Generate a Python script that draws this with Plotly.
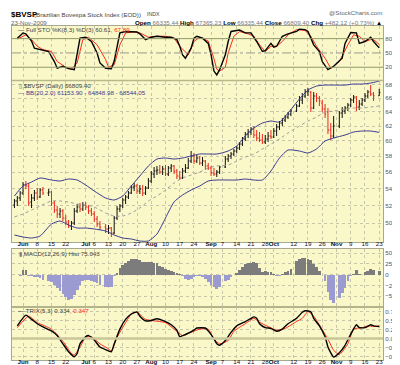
import numpy as np
import pandas as pd
import plotly.graph_objects as go

# ---------------- data ----------------
holidays = ["2009-06-11", "2009-07-09", "2009-09-07", "2009-10-12", "2009-11-02", "2009-11-20"]
dates = [d for d in pd.bdate_range("2009-05-27", "2009-11-23").strftime("%Y-%m-%d") if d not in holidays]

price_open = [52040, 52505, 52856,
              53447, 54405, 54284, 52388, 52856, 53447, 52974, 53804,
              53447, 53565, 52272, 51465, 51010, 51351, 50558, 50111, 49668, 50000, 51351, 51809, 51580,
              52040, 51809, 51351, 51010, 50446, 49889,
              49557, 49338, 49447, 48901, 50558, 51580, 51925, 52622, 52974, 53447, 54164, 54284, 53685, 53924, 53447, 54044,
              54891, 55751, 56124, 56249, 55999, 56374, 55751, 56499, 56751, 56124, 55504, 55258, 56124, 56499, 57385, 58026,
              57385, 57768, 57130, 57385, 56751, 56499, 55875, 55751, 55999,
              56625, 57640, 58026, 58284, 58674, 59066, 59593, 60259, 60932, 61203, 61612, 60797, 60393, 60125, 59859, 60259,
              60662, 60527, 61339, 61887, 62439, 62856, 63277, 63700,
              64126, 64842, 65712, 66298, 66890, 66890, 64554, 66298, 66004, 65276, 64411, 63983, 61476, 60662,
              62024, 63841, 64126, 64554, 64986, 65712, 66151, 64698, 65131, 65712, 66298, 66890, 66594,
              66335]
price_high = [52739, 53091, 53685,
              54769, 54891, 54647, 53328, 53804, 54044, 54044, 54164,
              53924, 53685, 52505, 51925, 51694, 51580, 50897, 50334, 50223, 51694, 52156, 52272, 52388,
              52388, 52040, 51694, 51351, 50784, 50223,
              49889, 49778, 49557, 50784, 51925, 52156, 52856, 53210, 53685, 54405, 54647, 54526, 54405, 54405, 54284, 55258,
              56124, 56625, 56751, 56877, 56751, 56877, 56751, 57003, 56877, 56374, 56124, 56499, 57003, 57768, 58674, 58414,
              58155, 58026, 57897, 57512, 57130, 56751, 56499, 56249, 56751,
              58026, 58284, 58544, 58935, 59329, 59859, 60527, 61203, 61612, 61887, 62024, 61476, 61203, 60932, 60797, 61203,
              61476, 61749, 62300, 62717, 63136, 63558, 63983, 64411,
              65131, 66298, 66742, 67337, 67487, 67039, 66890, 66742, 66298, 65712, 65131, 64554, 62439, 63417,
              64126, 64698, 64842, 65276, 66004, 66446, 66298, 65712, 66004, 66742, 67188, 67938, 66890,
              67365]
price_low = [51694, 51925, 52505,
             53210, 53924, 51925, 51694, 52505, 52622, 52856, 53210,
             53091, 51925, 51123, 50558, 50558, 50223, 49778, 49447, 49228, 49778, 51123, 51237, 51351,
             51465, 51010, 50784, 50111, 49557, 49228,
             48901, 48793, 48469, 48793, 50334, 51237, 51694, 52156, 52739, 53328, 53685, 53328, 53328, 53091, 53210, 53924,
             54647, 55258, 55627, 55751, 55627, 55504, 55504, 55999, 55751, 55135, 55013, 55135, 55875, 56374, 57130, 57003,
             57130, 56877, 56751, 56249, 56249, 55504, 55504, 55381, 55751,
             56499, 57257, 57640, 58026, 58414, 58804, 59329, 59992, 60393, 60797, 60393, 59992, 59859, 59593, 59593, 59859,
             60259, 60393, 60662, 61476, 62024, 62578, 62996, 63417,
             63983, 64698, 65131, 66004, 66298, 63983, 64411, 65421, 64842, 63983, 63136, 60932, 60125, 60393,
             61749, 63136, 63700, 64126, 64698, 65276, 64126, 64268, 64842, 65421, 66004, 66298, 65566,
             66335]
price_close = [52505, 52856, 53447,
               54405, 54284, 52272, 52856, 53447, 52974, 53804, 53447,
               53565, 52272, 51465, 51010, 51351, 50558, 50111, 49668, 50000, 51351, 51809, 51580, 52040,
               51809, 51351, 51010, 50446, 49889, 49557,
               49338, 49447, 48901, 50558, 51580, 51925, 52622, 52974, 53447, 54164, 54284, 53685, 53924, 53447, 54044, 54891,
               55751, 56124, 56249, 55999, 56374, 55751, 56499, 56751, 56124, 55504, 55258, 56124, 56499, 57385, 58026, 57385,
               57768, 57130, 57385, 56751, 56499, 55875, 55751, 55999, 56625,
               57640, 58026, 58284, 58674, 59066, 59593, 60259, 60932, 61203, 61612, 60797, 60393, 60125, 59859, 60259, 60662,
               60527, 61339, 61887, 62439, 62856, 63277, 63700, 64126,
               64842, 65712, 66298, 66890, 67039, 64554, 66298, 66004, 65566, 64411, 63700, 61476, 60662, 62024,
               63841, 64126, 64554, 64986, 65712, 66151, 64698, 65131, 65712, 66298, 66890, 66594, 66327,
               66809.40]

# Bollinger bands (sessions = position in `dates`)
bb_sessions = [0, 3, 6, 9, 12, 15, 18, 21, 24, 27, 30, 33, 36, 39, 42, 45, 48, 51, 54, 57, 60,
               63, 66, 69, 72, 75, 78, 81, 84, 87, 90, 93, 96, 99, 102, 105, 108, 111, 114, 117, 120, 122]
bb_upper = [53091, 54284, 54769, 55258, 55013, 54891, 55135, 55013, 54405, 53685,
            52856, 52622, 53091, 54284, 55504, 56751, 57640, 57768, 57640, 57768,
            58026, 58284, 58284, 58284, 58674, 59329, 60662, 61749, 62439, 62717,
            62578, 63841, 65858, 67188, 67787, 67938, 67938, 67938, 68089, 68089, 68240, 68544.05]
bb_middle = [50671, 51010, 51465, 51925, 52505, 52505, 52388, 52156, 52040, 51809,
             51123, 50784, 50784, 51123, 51694, 52505, 53091, 53804, 54647, 55258,
             55627, 55999, 56499, 56751, 56877, 57385, 57897, 58284, 58935, 59593,
             60259, 61067, 62024, 62717, 63277, 63983, 64126, 64411, 64554, 64554, 64698, 64848.98]
bb_lower = [48684, 48469, 48361, 48576, 49889, 50223, 49778, 49447, 49447, 49338,
            49119, 48684, 48361, 48254, 48040, 48040, 48793, 50558, 52388, 53210,
            53804, 54284, 54891, 55013, 55013, 55013, 55135, 55013, 55013, 56124,
            57768, 58804, 58674, 58414, 58935, 59992, 60393, 60797, 61203, 61339, 61339, 61153.90]

# Full stochastics
sto_k_sessions = [1, 3, 4, 6, 7, 9, 10, 11, 13, 14, 16, 18, 20, 21, 22, 24, 26, 28, 29, 30,
                  32, 33, 34, 35, 37, 39, 41, 42, 44, 46, 48, 51, 53, 55, 56, 57, 58, 60, 61, 62,
                  64, 66, 67, 68, 69, 70, 71, 72, 73, 75, 76, 78, 80, 82, 84, 85, 87, 88, 89, 91,
                  93, 95, 96, 98, 99, 101, 103, 104, 106, 108, 109, 110, 111, 113, 115, 116, 118, 120, 121, 122]
sto_k = [81, 92, 90, 75, 60, 57, 55, 53, 32, 18, 22, 17, 15, 46, 81, 83, 74, 50, 29, 18,
         17, 33, 67, 92, 95, 94, 94, 90, 78, 83, 85, 83, 83, 78, 64, 46, 39, 60, 81, 85,
         81, 70, 46, 12, 4, 15, 46, 74, 95, 97, 98, 92, 92, 74, 53, 55, 70, 62, 64, 85,
         90, 95, 100, 99, 95, 67, 53, 32, 15, 22, 32, 39, 70, 93, 92, 70, 74, 83, 74, 60.61]
sto_d_sessions = [1, 4, 6, 8, 10, 12, 14, 17, 19, 21, 23, 25, 28, 30, 31, 33, 35, 37, 40, 42,
                  45, 48, 51, 54, 56, 59, 61, 63, 66, 67, 68, 69, 70, 71, 72, 74, 76, 79, 81, 83,
                  85, 87, 89, 91, 93, 95, 98, 100, 102, 105, 107, 108, 109, 112, 114, 116, 118, 120, 121, 122]
sto_d = [79, 88, 78, 64, 57, 53, 32, 20, 16, 29, 78, 83, 67, 36, 20, 25, 67, 92, 94, 92,
         83, 85, 85, 81, 64, 46, 74, 83, 75, 58, 38, 16, 12, 20, 50, 85, 95, 90, 85, 67,
         53, 64, 64, 74, 88, 99, 97, 85, 64, 39, 18, 22, 32, 67, 88, 85, 74, 78, 78, 67.89]

# MACD(12,26,9) histogram, one value per session
macd_hist = [-10, -15, -20,
             100, 110, -25, -35, -45, -60, -80, -115,
             -150, -180, -250, -310, -380, -450, -510, -575, -560, -470, -350, -240, -150,
             -130, -130, -140, -160, -200, -250,
             -290, -290, -290, -40, 40, 150, 230, 280, 320, 355, 365, 360, 330, 290, 300, 295,
             290, 275, 260, 210, 180, 140, 110, 90, 60, 30, 5, -40, -90, -130, -100, -60,
             -20, -20, -60, -110, -160, -230, -290, -340, -280,
             -150, -120, -60, -10, 40, 110, 180, 240, 265, 280, 285, 270, 150, 70, 75, 65,
             60, 15, -25, -40, 15, 60, 90, 140,
             310, 360, 385, 385, 370, 350, 245, 170, 75, 0, -150, -400, -580, -650,
             -540, -425, -310, -154, -40, 10, 100, 10, 0, 60, 90, 130, 115,
             75.043]

# TRIX(5,3) and signal
trix_sessions = [1, 4, 6, 8, 10, 12, 14, 16, 18, 20, 21, 22, 24, 25, 27, 29, 30, 32, 33, 35,
                 37, 39, 41, 42, 44, 46, 48, 51, 53, 55, 56, 58, 61, 62, 65, 66, 68, 69, 70, 71,
                 73, 75, 78, 80, 81, 82, 83, 85, 87, 89, 91, 93, 95, 97, 98, 100, 101, 103, 105, 106,
                 107, 108, 109, 111, 113, 115, 116, 118, 120, 121, 122]
trix = [0.35, 0.65, 0.53, 0.41, 0.32, 0.21, 0.08, -0.15, -0.37, -0.51, -0.42, -0.15, 0.05, 0.08, -0.04, -0.24, -0.31, -0.37, -0.15, 0.26,
        0.53, 0.68, 0.74, 0.62, 0.49, 0.50, 0.55, 0.47, 0.38, 0.23, 0.05, 0.11, 0.23, 0.29, 0.29, 0.21, -0.01, -0.15, -0.19, -0.06,
        0.17, 0.35, 0.47, 0.56, 0.60, 0.56, 0.41, 0.30, 0.28, 0.20, 0.26, 0.41, 0.56, 0.73, 0.77, 0.74, 0.56, 0.35, 0.05, -0.24,
        -0.40, -0.52, -0.40, -0.19, 0.12, 0.38, 0.30, 0.30, 0.38, 0.35, 0.334]
trix_sig_sessions = [1, 5, 8, 12, 16, 19, 20, 22, 24, 26, 29, 31, 32, 34, 37, 39, 41, 44, 47, 51,
                     54, 57, 60, 63, 66, 68, 70, 72, 74, 78, 81, 83, 86, 89, 92, 95, 97, 99, 101, 103,
                     106, 108, 109, 112, 114, 117, 119, 121, 122]
trix_signal = [0.30, 0.62, 0.44, 0.26, -0.08, -0.42, -0.46, -0.24, 0.03, 0.05, -0.15, -0.29, -0.35, 0.03, 0.44, 0.68, 0.73, 0.53, 0.49, 0.44,
               0.26, 0.08, 0.17, 0.26, 0.26, -0.02, -0.15, -0.06, 0.20, 0.41, 0.56, 0.45, 0.33, 0.23, 0.28, 0.47, 0.56, 0.75, 0.62, 0.38,
               -0.02, -0.33, -0.45, -0.15, 0.26, 0.30, 0.35, 0.33, 0.347]

tick_dates = ["2009-06-01", "2009-06-08", "2009-06-15", "2009-06-22", "2009-07-01", "2009-07-06", "2009-07-13",
              "2009-07-20", "2009-07-27", "2009-08-03", "2009-08-10", "2009-08-17", "2009-08-24", "2009-09-01",
              "2009-09-07", "2009-09-14", "2009-09-21", "2009-09-28", "2009-10-01", "2009-10-12", "2009-10-19",
              "2009-10-26", "2009-11-02", "2009-11-09", "2009-11-16", "2009-11-23"]
tick_labels = ["Jun", "8", "15", "22", "Jul", "6", "13", "20", "27", "Aug", "10", "17", "24", "Sep",
               "7", "14", "21", "28", "Oct", "12", "19", "26", "Nov", "9", "16", "23"]
month_names = ["Jun", "Jul", "Aug", "Sep", "Oct", "Nov"]
price_ticks = [50000, 52000, 54000, 56000, 58000, 60000, 62000, 64000, 66000, 68000]
price_tick_labels = ["50K", "52K", "54K", "56K", "58K", "60K", "62K", "64K", "66K", "68K"]
sto_ticks = [20, 50, 80]
macd_ticks = [-500, -250, 0, 250, 500]
trix_ticks = [-0.5, -0.25, 0.0, 0.25, 0.5, 0.75]

# ---------------- geometry ----------------
W, H = 400, 365
ML, MR, MT, MB = 4, 25, 18, 12
PW, PH = W - ML - MR, H - MT - MB


def px_x(x):
    return (x - ML) / PW


def px_y(y):
    return (H - MB - y) / PH


def dom(top, bot):
    return [px_y(bot), px_y(top)]


def slot(ds):
    arr = np.array(ds, dtype="datetime64[D]")
    return np.busday_count(np.datetime64("2009-06-01"), arr).astype(float)


xw = slot(dates)
XR = [-3.86, 126.32]

BG = "#FAF8C8"
GRID = "#c8c6a8"
FONT = "Liberation Sans"
FS = 6.2

fig = go.Figure()

# ---- stochastics (panel 1) ----
fig.add_trace(go.Scatter(x=xw[sto_d_sessions], y=sto_d, mode="lines",
                         line=dict(color="#ff2a1a", width=1), xaxis="x", yaxis="y", hoverinfo="skip"))
fig.add_trace(go.Scatter(x=xw[sto_k_sessions], y=sto_k, mode="lines",
                         line=dict(color="black", width=1.4), xaxis="x", yaxis="y", hoverinfo="skip"))

# ---- price (panel 2) ----
bb_x = xw[bb_sessions]
fig.add_trace(go.Scatter(x=bb_x, y=bb_middle, mode="lines", line=dict(color="#9a9a9a", width=1, dash="dot", shape="spline", smoothing=0.6),
                         xaxis="x2", yaxis="y2", hoverinfo="skip"))
fig.add_trace(go.Scatter(x=bb_x, y=bb_upper, mode="lines", line=dict(color="#3a3a90", width=1, shape="spline", smoothing=0.6),
                         xaxis="x2", yaxis="y2", hoverinfo="skip"))
fig.add_trace(go.Scatter(x=bb_x, y=bb_lower, mode="lines", line=dict(color="#3a3a90", width=1, shape="spline", smoothing=0.6),
                         xaxis="x2", yaxis="y2", hoverinfo="skip"))

prev_close = [price_open[0]] + price_close[:-1]
up = [c >= p for c, p in zip(price_close, prev_close)]
for flag, col in ((True, "#111111"), (False, "#e8281e")):
    idx = [j for j in range(len(dates)) if up[j] == flag]
    fig.add_trace(go.Ohlc(x=xw[idx],
                          open=[price_open[j] for j in idx], high=[price_high[j] for j in idx],
                          low=[price_low[j] for j in idx], close=[price_close[j] for j in idx],
                          increasing=dict(line=dict(color=col, width=1)),
                          decreasing=dict(line=dict(color=col, width=1)),
                          tickwidth=0.4, xaxis="x2", yaxis="y2", hoverinfo="skip", showlegend=False))

# ---- MACD histogram (panel 3) ----
fig.add_trace(go.Bar(x=xw, y=macd_hist,
                     marker=dict(color=["#7c7c7c" if v >= 0 else "#9b9bd2" for v in macd_hist],
                                 line=dict(width=0)),
                     width=0.95, xaxis="x3", yaxis="y3", hoverinfo="skip"))

# ---- TRIX (panel 4) ----
fig.add_trace(go.Scatter(x=xw[trix_sig_sessions], y=trix_signal, mode="lines",
                         line=dict(color="#ff2a1a", width=1, shape="spline", smoothing=0.5), xaxis="x4", yaxis="y4", hoverinfo="skip"))
fig.add_trace(go.Scatter(x=xw[trix_sessions], y=trix, mode="lines",
                         line=dict(color="black", width=1.4, shape="spline", smoothing=0.5), xaxis="x4", yaxis="y4", hoverinfo="skip"))

tickx = slot(tick_dates)
ticktext = [f"<b>{t}</b>" if t in month_names else t for t in tick_labels]


def xax(anchor, show_labels, match=None):
    d = dict(domain=[0, 1], anchor=anchor, range=XR, tickvals=tickx, ticktext=ticktext, tickangle=0,
             showticklabels=show_labels, showgrid=True, gridcolor=GRID, griddash="dot", gridwidth=1,
             zeroline=False, showline=True, linecolor="#a8a890", linewidth=1, mirror=True, ticks="",
             ticklabelstandoff=-4,
             tickfont=dict(size=FS, color="#111", family=FONT), rangeslider=dict(visible=False), fixedrange=True)
    if match:
        d["matches"] = match
    return d


def yax(anchor, domain, **kw):
    d = dict(domain=domain, anchor=anchor, side="right", showline=True, linecolor="#a8a890", linewidth=1,
             mirror=True, ticks="", zeroline=False, tickfont=dict(size=FS, color="#555", family=FONT),
             showgrid=True, gridcolor=GRID, griddash="dot", gridwidth=1, fixedrange=True)
    d.update(kw)
    return d


layout = dict(
    width=W, height=H, margin=dict(l=ML, r=MR, t=MT, b=MB),
    paper_bgcolor="white", plot_bgcolor=BG, showlegend=False,
    font=dict(family=FONT, size=FS, color="#333"),
    bargap=0,
    xaxis=xax("y", False),
    xaxis2=xax("y2", True, "x"),
    xaxis3=xax("y3", False, "x"),
    xaxis4=xax("y4", True, "x"),
    yaxis=yax("x", dom(18, 72), range=[-6.7, 106.5], tickvals=sto_ticks, showgrid=False),
    yaxis2=yax("x2", dom(72.5, 234), type="log", range=[np.log10(47933), np.log10(68628)],
               tickvals=price_ticks, ticktext=price_tick_labels),
    yaxis3=yax("x3", dom(241, 299), range=[-748, 595], tickvals=macd_ticks),
    yaxis4=yax("x4", dom(299, 352), range=[-0.60, 0.875], tickvals=trix_ticks, tickformat=".2f"),
)
fig.update_layout(**layout)

# reference lines
shapes = [
    dict(type="line", xref="paper", yref="y", x0=0, x1=1, y0=80, y1=80, line=dict(color="#8f9a6a", width=1)),
    dict(type="line", xref="paper", yref="y", x0=0, x1=1, y0=20, y1=20, line=dict(color="#8f9a6a", width=1)),
    dict(type="line", xref="paper", yref="y", x0=0, x1=1, y0=50, y1=50, line=dict(color="#9a9a8a", width=1, dash="dashdot")),
    dict(type="line", xref="paper", yref="y4", x0=0, x1=1, y0=0, y1=0, line=dict(color="#c9c79a", width=2.5)),
    dict(type="line", xref="paper", yref="paper", x0=0, x1=1, y0=px_y(72.5), y1=px_y(72.5), line=dict(color="#b8b88a", width=1.5)),
    dict(type="line", xref="paper", yref="paper", x0=0, x1=1, y0=px_y(299), y1=px_y(299), line=dict(color="#b8b88a", width=1.5)),
]
fig.update_layout(shapes=shapes)

ann = []


def add_text(x, y, text, size=FS, anchor="left", color="#333"):
    ann.append(dict(x=px_x(x), y=px_y(y), xref="paper", yref="paper", text=text, showarrow=False,
                    xanchor=anchor, yanchor="middle", font=dict(size=size, color=color, family=FONT)))


add_text(1, 6, "<b>$BVSP</b>", size=8, color="#000")
add_text(24, 6, "(Brazilian Bovespa Stock Index (EOD))", size=FS, color="#444")
add_text(137, 6.5, "INDX", size=5.3, color="#444")
add_text(376, 5, "@StockCharts.com", size=FS, anchor="right", color="#666")
add_text(1, 14, "23-Nov-2009", size=FS, color="#666")
add_text(376, 14,
         "<b>Open</b> <span style='color:#777'>66335.44</span> <b>High</b> <span style='color:#777'>67365.23</span> "
         "<b>Low</b> <span style='color:#777'>66335.44</span> <b>Close</b> <span style='color:#777'>66809.40</span> "
         "<b>Chg</b> <span style='color:#777'>+482.12 (+0.73%)</span> ▲",
         size=FS, anchor="right", color="#000")
add_text(8, 21.5, "<span style='color:#000'>—</span> Full STO %K(8,3) %D(3) 60.61, <span style='color:#ff2a1a'>67.89</span>",
         color="#444")
add_text(9, 77, "▯ $BVSP (Daily) 66809.40", color="#444")
add_text(8, 84.5, "<span style='color:#3a3a90'>—</span> BB(20,2.0) 61153.90 - 64848.98 - 68544.05", color="#3a3a90")
add_text(9, 245, "<span style='color:#7c7c7c'>▮</span> MACD(12,26,9) Hist 75.043", color="#444")
add_text(8, 302.5, "<span style='color:#000'>—</span> TRIX(5,3) 0.334, <span style='color:#ff2a1a'>0.347</span>",
         color="#444")
fig.update_layout(annotations=ann)

fig.write_html("out.html", config=dict(displayModeBar=False, staticPlot=True))
